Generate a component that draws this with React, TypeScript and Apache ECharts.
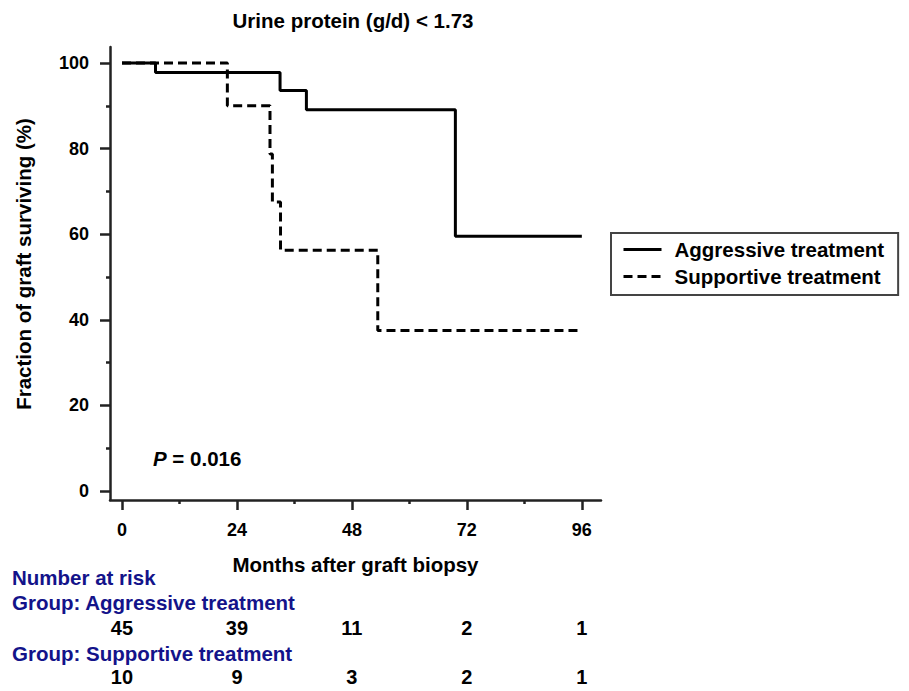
import React, { useEffect, useRef } from "react";
import * as echarts from "echarts";

const FONT = "'Liberation Sans', Arial, Helvetica, sans-serif";
const NAVY = "#13138a";
const TXT = 20.5;

const titleText = "Urine protein (g/d) < 1.73";
const xAxisName = "Months after graft biopsy";
const yAxisName = "Fraction of graft surviving (%)";
const seriesNames = ["Aggressive treatment", "Supportive treatment"];

const xMajorTicks = [0, 24, 48, 72, 96];
const xMinorTicks = [12, 36, 60, 84];
const yMajorTicks = [0, 20, 40, 60, 80, 100];
const yMinorTicks = [10, 30, 50, 70, 90];

// Kaplan-Meier step points (month, % surviving)
const aggressiveMonths = [0, 7, 33, 38.5, 69.6, 96];
const aggressiveSurvival = [100, 97.8, 93.6, 89.1, 59.5, 59.5];
const supportiveMonths = [0, 22, 30.9, 31.4, 33.1, 53.4, 96];
const supportiveSurvival = [100, 90, 78.75, 67.5, 56.25, 37.5, 37.5];

// Number at risk
const riskMonths = [0, 24, 48, 72, 96];
const riskAggressive = [45, 39, 11, 2, 1];
const riskSupportive = [10, 9, 3, 2, 1];

const pValueText = "0.016";

const X_MIN = -2.5;
const X_MAX = 100;
const Y_MIN = -2.1;
const Y_MAX = 103.74;

export default function App() {
  const ref = useRef<HTMLDivElement>(null);

  useEffect(() => {
    document.body.style.margin = "0";
    const chart = echarts.init(ref.current as HTMLDivElement, null, { renderer: "svg" });

    const bold = (size: number, color = "#000") => ({
      fontFamily: FONT,
      fontWeight: "bold" as const,
      fontSize: size,
      color,
    });

    const baseX = {
      type: "value" as const,
      min: X_MIN,
      max: X_MAX,
      gridIndex: 0,
      position: "bottom" as const,
      splitLine: { show: false },
    };
    const baseY = {
      type: "value" as const,
      min: Y_MIN,
      max: Y_MAX,
      gridIndex: 0,
      position: "left" as const,
      splitLine: { show: false },
    };

    const option: any = {
      animation: false,
      backgroundColor: "#fff",
      title: {
        text: titleText,
        left: 353,
        top: 10,
        padding: 0,
        textAlign: "center",
        textStyle: bold(TXT),
      },
      grid: { left: 110, top: 47, width: 491, height: 453, containLabel: false },
      legend: {
        orient: "vertical",
        left: 611,
        top: 233,
        padding: [6, 14, 8, 11],
        itemGap: 6,
        itemWidth: 38,
        itemHeight: 18,
        borderColor: "#444",
        borderWidth: 2,
        data: seriesNames,
        itemStyle: { opacity: 0 },
        lineStyle: { width: 3, color: "#000" },
        textStyle: { ...bold(TXT), padding: [0, 0, 0, 8] },
      },
      xAxis: [
        {
          ...baseX,
          name: xAxisName,
          nameLocation: "middle",
          nameGap: 54,
          nameTextStyle: bold(TXT),
          axisLine: { show: true, onZero: false, lineStyle: { color: "#222", width: 2.5 } },
          axisTick: { show: true, customValues: xMajorTicks, length: 10, lineStyle: { color: "#222", width: 2.5 } },
          axisLabel: { show: true, customValues: xMajorTicks, margin: 21, ...bold(18) },
        },
        {
          ...baseX,
          axisLine: { show: false, onZero: false },
          axisTick: { show: true, customValues: xMinorTicks, length: 4, lineStyle: { color: "#222", width: 2.5 } },
          axisLabel: { show: false },
        },
        {
          ...baseX,
          axisLine: { show: false, onZero: false },
          axisTick: { show: false },
          axisLabel: {
            show: true,
            customValues: riskMonths,
            margin: 118,
            formatter: (v: number) => String(riskAggressive[riskMonths.indexOf(v)]),
            ...bold(20),
          },
        },
        {
          ...baseX,
          axisLine: { show: false, onZero: false },
          axisTick: { show: false },
          axisLabel: {
            show: true,
            customValues: riskMonths,
            margin: 167,
            formatter: (v: number) => String(riskSupportive[riskMonths.indexOf(v)]),
            ...bold(20),
          },
        },
      ],
      yAxis: [
        {
          ...baseY,
          name: yAxisName,
          nameLocation: "middle",
          nameGap: 76,
          nameTextStyle: { ...bold(TXT), padding: [0, 0, 0, 19] },
          axisLine: { show: true, onZero: false, lineStyle: { color: "#222", width: 2.5 } },
          axisTick: { show: true, customValues: yMajorTicks, length: 10, lineStyle: { color: "#222", width: 2.5 } },
          axisLabel: { show: true, customValues: yMajorTicks, margin: 21, ...bold(18) },
        },
        {
          ...baseY,
          axisLine: { show: false, onZero: false },
          axisTick: { show: true, customValues: yMinorTicks, length: 4, lineStyle: { color: "#222", width: 2.5 } },
          axisLabel: { show: false },
        },
      ],
      series: [
        {
          name: seriesNames[0],
          type: "line",
          step: "end",
          symbol: "none",
          xAxisIndex: 0,
          yAxisIndex: 0,
          color: "#000",
          lineStyle: { color: "#000", width: 3, type: "solid" },
          data: aggressiveMonths.map((m, i) => [m, aggressiveSurvival[i]]),
        },
        {
          name: seriesNames[1],
          type: "line",
          step: "end",
          symbol: "none",
          xAxisIndex: 0,
          yAxisIndex: 0,
          color: "#000",
          lineStyle: { color: "#000", width: 3, type: [9, 5] },
          data: supportiveMonths.map((m, i) => [m, supportiveSurvival[i]]),
        },
      ],
      graphic: [
        {
          type: "text",
          left: 153,
          top: 448,
          style: {
            text: "{p|P} = " + pValueText,
            font: `bold ${TXT}px ${FONT}`,
            fill: "#000",
            rich: {
              p: { fontStyle: "italic", fontWeight: "bold", fontSize: TXT, fontFamily: FONT, fill: "#000" },
            },
          },
        },
        {
          type: "text",
          left: 12,
          top: 567,
          style: { text: "Number at risk", font: `bold ${TXT}px ${FONT}`, fill: NAVY },
        },
        {
          type: "text",
          left: 12,
          top: 592,
          style: { text: "Group: " + seriesNames[0], font: `bold ${TXT}px ${FONT}`, fill: NAVY },
        },
        {
          type: "text",
          left: 12,
          top: 643,
          style: { text: "Group: " + seriesNames[1], font: `bold ${TXT}px ${FONT}`, fill: NAVY },
        },
      ],
    };

    chart.setOption(option);
    return () => chart.dispose();
  }, []);

  return (
    <div
      ref={ref}
      style={{ position: "fixed", left: 0, top: 0, width: 909, height: 691, background: "#fff" }}
    />
  );
}
